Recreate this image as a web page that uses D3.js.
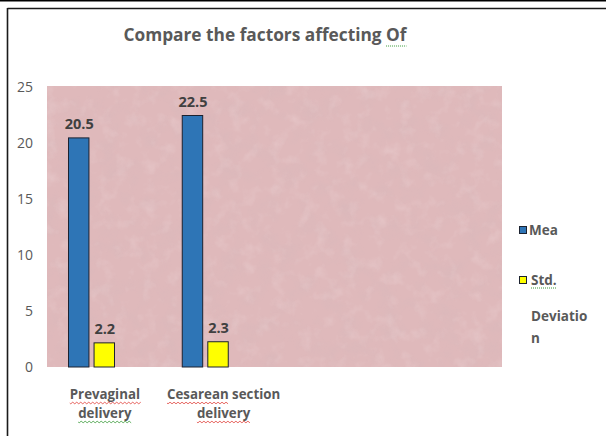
<!DOCTYPE html>
<html>
<head>
<meta charset="utf-8">
<script src="https://cdn.jsdelivr.net/npm/d3@7"></script>
<style>
  html, body { margin: 0; padding: 0; background: #fff; }
  svg { display: block; }
  text { font-family: "Open Sans", Lato, sans-serif; }
</style>
</head>
<body>
<svg id="chart" width="606" height="436"></svg>
<script>
// ---- data ----
const titleText = "Compare the factors affecting Of";
const categories = [["Prevaginal", "delivery"], ["Cesarean section", "delivery"]];
const seriesKeys = ["mean", "sd"];
const legendLabels = [["Mea"], ["Std.", "Deviatio", "n"]];
const meanValues = [20.5, 22.5];
const sdValues = [2.2, 2.3];
const yTicks = [0, 5, 10, 15, 20, 25];
const slotCount = 4; // category slots along the axis (two are unused)

// ---- layout ----
const W = 606, H = 436;
const plot = { left: 47, right: 502, top: 86, bottom: 367 };
const colors = { mean: "#2e75b6", sd: "#ffff00" };
const textGray = "#595959";

const svg = d3.select("#chart");

// frame lines around the chart
svg.append("line").attr("x1", 0).attr("x2", W).attr("y1", 0.7).attr("y2", 0.7)
  .attr("stroke", "#000").attr("stroke-width", 1.6);
svg.append("line").attr("x1", 7.5).attr("x2", W).attr("y1", 8.5).attr("y2", 8.5)
  .attr("stroke", "#1a1a1a").attr("stroke-width", 1.6);
svg.append("line").attr("x1", 7.5).attr("x2", 7.5).attr("y1", 8).attr("y2", H)
  .attr("stroke", "#1a1a1a").attr("stroke-width", 1.6);

// tissue-paper texture for the plot area
const defs = svg.append("defs");
const fDark = defs.append("filter").attr("id", "mottleDark")
  .attr("x", 0).attr("y", 0).attr("width", "100%").attr("height", "100%");
fDark.append("feTurbulence").attr("type", "fractalNoise").attr("baseFrequency", "0.05")
  .attr("numOctaves", 4).attr("seed", 7).attr("result", "noise");
fDark.append("feColorMatrix").attr("in", "noise").attr("type", "matrix")
  .attr("values", "0 0 0 0 0.66  0 0 0 0 0.48  0 0 0 0 0.50  2.2 0 0 0 -1.0");
const fLight = defs.append("filter").attr("id", "mottleLight")
  .attr("x", 0).attr("y", 0).attr("width", "100%").attr("height", "100%");
fLight.append("feTurbulence").attr("type", "fractalNoise").attr("baseFrequency", "0.07")
  .attr("numOctaves", 3).attr("seed", 19).attr("result", "noise");
fLight.append("feColorMatrix").attr("in", "noise").attr("type", "matrix")
  .attr("values", "0 0 0 0 0.93  0 0 0 0 0.82  0 0 0 0 0.83  -2.0 0 0 0 1.0");

const pw = plot.right - plot.left, ph = plot.bottom - plot.top;
svg.append("rect").attr("x", plot.left).attr("y", plot.top).attr("width", pw).attr("height", ph)
  .attr("fill", "#dfb9bb");
svg.append("rect").attr("x", plot.left).attr("y", plot.top).attr("width", pw).attr("height", ph)
  .attr("filter", "url(#mottleDark)").attr("opacity", 0.35);
svg.append("rect").attr("x", plot.left).attr("y", plot.top).attr("width", pw).attr("height", ph)
  .attr("filter", "url(#mottleLight)").attr("opacity", 0.25);

// ---- scales ----
const y = d3.scaleLinear().domain([0, 25]).range([plot.bottom, plot.top + 1]);
const x0 = d3.scaleBand().domain(d3.range(slotCount)).range([plot.left, plot.right])
  .paddingInner(0).paddingOuter(0);
const x1 = d3.scaleBand().domain(seriesKeys).range([21, 67]).paddingInner(0.2).paddingOuter(0);

// ---- y axis (labels only) ----
const yAxis = svg.append("g").attr("transform", "translate(33,0)")
  .call(d3.axisLeft(y).tickValues(yTicks).tickSize(0).tickPadding(0));
yAxis.select(".domain").remove();
yAxis.selectAll("text").attr("fill", textGray).style("font-size", "14px")
  .style("font-family", "'Open Sans', sans-serif");

// ---- bars ----
const rows = categories.map((c, i) => ({ i, mean: meanValues[i], sd: sdValues[i] }));
const groups = svg.append("g").selectAll("g").data(rows).join("g")
  .attr("transform", d => `translate(${x0(d.i)},0)`);
groups.selectAll("rect").data(d => seriesKeys.map(k => ({ k, v: d[k] }))).join("rect")
  .attr("x", d => x1(d.k) + 0.5)
  .attr("y", d => y(d.v) + 0.5)
  .attr("width", x1.bandwidth())
  .attr("height", d => y(0) - y(d.v) - 0.5)
  .attr("fill", d => colors[d.k])
  .attr("stroke", "#1c2230").attr("stroke-width", 1);
groups.selectAll("text.val").data(d => seriesKeys.map(k => ({ k, v: d[k] }))).join("text")
  .attr("class", "val")
  .attr("x", d => x1(d.k) + x1.bandwidth() / 2 + 1)
  .attr("y", d => y(d.v) - 8)
  .attr("text-anchor", "middle")
  .attr("fill", "#404040").style("font-size", "14.5px").style("font-weight", 700)
  .text(d => d.v);

// spell-check style underline marks
function squiggle(x, yy, w, color) {
  let p = `M${x},${yy}`;
  for (let t = 0; t < w; t += 2) p += `L${x + t + 1},${yy + ((t / 2) % 2 ? -0.8 : 0.8)}`;
  svg.append("path").attr("d", p).attr("fill", "none").attr("stroke", color).attr("stroke-width", 0.8);
}
function dotted(x, yy, w, color) {
  svg.append("line").attr("x1", x).attr("x2", x + w).attr("y1", yy).attr("y2", yy)
    .attr("stroke", color).attr("stroke-width", 1).attr("stroke-dasharray", "1,1");
}
function underlineWord(textSel, word, yy, kind, color) {
  const node = textSel.node();
  const full = node.textContent;
  const idx = full.indexOf(word);
  if (idx < 0) return;
  const start = node.getStartPositionOfChar(idx).x;
  const end = node.getEndPositionOfChar(idx + word.length - 1).x;
  if (kind === "wave") squiggle(start, yy, end - start, color); else dotted(start, yy, end - start, color);
}

// ---- x category labels ----
const red = "#e0403a", green = "#3a9a3a";
categories.forEach((lines, i) => {
  const cx = x0(i) + x0.bandwidth() / 2 + (i === 0 ? 1 : 6);
  lines.forEach((ln, j) => {
    const t = svg.append("text").attr("x", cx).attr("y", 399 + j * 19)
      .attr("text-anchor", "middle").attr("fill", textGray)
      .style("font-size", "13.3px").style("font-weight", 700).text(ln);
    const by = 399 + j * 19 + 4;
    if (i === 0 && j === 0) underlineWord(t, "Prevaginal", by, "wave", red);
    if (i === 0 && j === 1) underlineWord(t, "delivery", by, "wave", green);
    if (i === 1 && j === 0) underlineWord(t, "Cesarean", by, "wave", red);
    if (i === 1 && j === 1) underlineWord(t, "delivery", by, "wave", red);
  });
});

// ---- title ----
const title = svg.append("text").attr("x", 265).attr("y", 41).attr("text-anchor", "middle")
  .attr("fill", textGray).style("font-size", "17.3px").style("font-weight", 700).text(titleText);
underlineWord(title, "Of", 46, "dot", green);

// ---- legend ----
const legendTop = [230, 280];
seriesKeys.forEach((k, i) => {
  const yy = legendTop[i];
  svg.append("rect").attr("x", 519.5).attr("y", yy - 3.5).attr("width", 7).attr("height", 7)
    .attr("fill", colors[k]).attr("stroke", "#1c2230").attr("stroke-width", 1);
  legendLabels[i].forEach((ln, j) => {
    const t = svg.append("text").attr("x", j === 0 ? 529 + i * 2 : 531)
      .attr("y", yy + 5 + (j === 0 ? 0 : 36 + (j - 1) * 22))
      .attr("fill", textGray).style("font-size", "13.5px").style("font-weight", 700).text(ln);
    if (i === 1 && j === 0) underlineWord(t, "Std.", yy + 8, "dot", green);
  });
});
</script>
</body>
</html>
